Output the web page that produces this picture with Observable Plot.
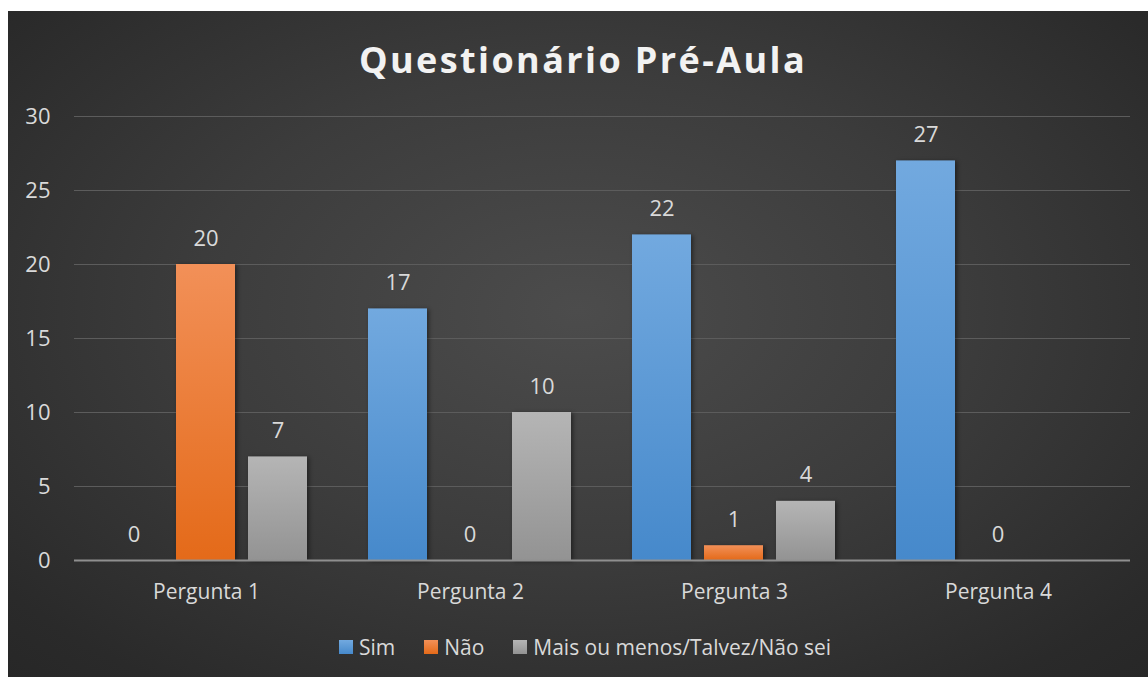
<!DOCTYPE html>
<html>
<head>
<meta charset="utf-8">
<script src="https://cdn.jsdelivr.net/npm/d3@7"></script>
<script src="https://cdn.jsdelivr.net/npm/@observablehq/plot@0.6"></script>
<style>
  html, body { margin: 0; padding: 0; background: #ffffff; }
  body { width: 1148px; height: 677px; position: relative; overflow: hidden; font-family: "Open Sans", sans-serif; }
  #panel {
    position: absolute; left: 8px; top: 11px; width: 1140px; height: 666px;
    background: radial-gradient(ellipse 75% 80% at 50% 45%, #4c4c4c 0%, #3c3c3c 45%, #2a2a2a 85%, #262626 100%);
  }
  #title {
    height: 90px; box-sizing: border-box; padding-top: 28px; line-height: 42px;
    text-align: center; color: #f2f2f2; font-weight: 700; font-size: 36px; letter-spacing: 2.4px;
    font-family: "Open Sans", sans-serif; padding-left: 10px;
  }
  #chart svg { display: block; }
  #legend {
    height: 76px; box-sizing: border-box; padding-top: 16px; line-height: 24px;
    display: flex; justify-content: center; gap: 29px; color: #d9d9d9; font-size: 21px;
    padding-left: 14px;
  }
  #legend .item { display: flex; align-items: center; }
  #legend .sw { width: 14px; height: 14px; margin-right: 6px; }
  g[aria-label="bar"] rect { filter: drop-shadow(2px 1px 2px rgba(0,0,0,0.45)); }
</style>
</head>
<body>
<div id="panel">
  <div id="title">Questionário Pré-Aula</div>
  <div id="chart"></div>
  <div id="legend"></div>
</div>
<script>
const questions = ["Pergunta 1", "Pergunta 2", "Pergunta 3", "Pergunta 4"];
const series = ["Sim", "Não", "Mais ou menos/Talvez/Não sei"];
const simValues = [0, 17, 22, 27];
const naoValues = [20, 0, 1, 0];
const talvezValues = [7, 10, 4, null];
const yTicks = [0, 5, 10, 15, 20, 25, 30];

const seriesValues = [simValues, naoValues, talvezValues];
const gradIds = ["gSim", "gNao", "gTalvez"];
const gradStops = [["#72a9df", "#4689cb"], ["#f29058", "#e46a19"], ["#b5b5b5", "#939393"]];

const data = [];
questions.forEach((q, i) => {
  series.forEach((s, j) => {
    const v = seriesValues[j][i];
    if (v !== null && v !== undefined) data.push({q, s, v, k: j});
  });
});

const barMarks = series.map((s, j) =>
  Plot.barY(data.filter(d => d.s === s), {fx: "q", x: "s", y: "v", fill: `url(#${gradIds[j]})`})
);

const svg = Plot.plot({
  width: 1140,
  height: 500,
  marginLeft: 65,
  marginRight: 17,
  marginTop: 15,
  marginBottom: 41,
  style: {background: "transparent", fontFamily: "Open Sans, sans-serif", overflow: "visible"},
  fx: {domain: questions, paddingInner: 0, paddingOuter: 0, label: null},
  x: {domain: series, paddingInner: 0.178, paddingOuter: 0.4, axis: null},
  y: {domain: [0, 30], label: null},
  marks: [
    Plot.gridY(yTicks, {stroke: "#5c5c5c", strokeOpacity: 1, strokeWidth: 1.2}),
    Plot.axisY(yTicks, {tickSize: 0, tickPadding: 24, fontSize: 22, fill: "#d9d9d9", label: null}),
    Plot.axisFx({anchor: "bottom", tickSize: 0, tickPadding: 24, fontSize: 21, fill: "#d9d9d9", label: null}),
    ...barMarks,
    Plot.ruleY([0], {stroke: "#8f8f8f", strokeWidth: 2}),
    Plot.text(data, {fx: "q", x: "s", y: "v", text: d => String(d.v), dy: -26, fill: "#d9d9d9", fontSize: 22})
  ]
});

const defs = d3.select(svg).insert("defs", ":first-child");
gradIds.forEach((id, j) => {
  const g = defs.append("linearGradient").attr("id", id).attr("x1", 0).attr("y1", 0).attr("x2", 0).attr("y2", 1);
  g.append("stop").attr("offset", "0%").attr("stop-color", gradStops[j][0]);
  g.append("stop").attr("offset", "100%").attr("stop-color", gradStops[j][1]);
});

document.getElementById("chart").appendChild(svg);

const legend = d3.select("#legend");
series.forEach((s, j) => {
  const item = legend.append("div").attr("class", "item");
  item.append("div").attr("class", "sw").style("background", `linear-gradient(${gradStops[j][0]}, ${gradStops[j][1]})`);
  item.append("span").text(s);
});
</script>
</body>
</html>
